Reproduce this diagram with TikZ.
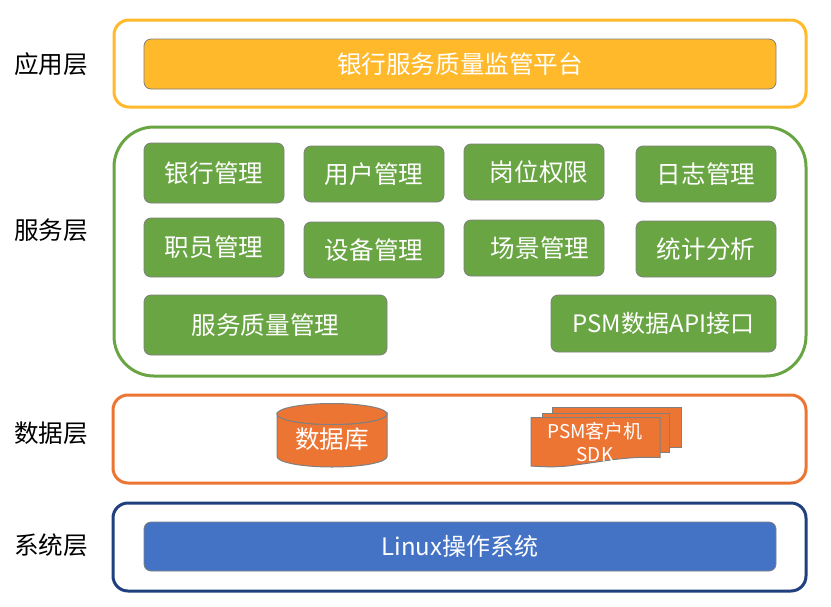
\documentclass[tikz,border=0pt]{standalone}
\usepackage{fontspec}
\setmainfont{Noto Sans CJK SC}
\definecolor{cyellow}{HTML}{FFB92A}
\definecolor{cgreen}{HTML}{6AA544}
\definecolor{corange}{HTML}{ED7534}
\definecolor{cblue}{HTML}{4472C4}
\definecolor{cnavy}{HTML}{1F3F7F}
\definecolor{cgray}{HTML}{808080}
\tikzset{
  layer/.style={draw,line width=3pt,fill=white,rounded corners=15pt,inner sep=0pt},
  card/.style={draw=cgray,line width=0.8pt,text=white,font=\fontsize{24.6}{28}\selectfont,rounded corners=7pt,inner sep=0pt},
  greencard/.style={card,fill=cgreen},
  sidelabel/.style={font=\fontsize{24.6}{28}\selectfont,text=black,inner sep=0pt},
  sheet/.style={draw=cgray,line width=1pt,fill=corange},
}
\begin{document}
\begin{tikzpicture}[x=1pt,y=-1pt]
\useasboundingbox (0,0) rectangle (831,606);
\fill[white] (0,0) rectangle (831,606);
% outer layers
\node[layer,draw=cyellow,minimum width=692pt,minimum height=87pt] (appL) at (460,63.5) {};
\node[layer,draw=cgreen,rounded corners=40pt,minimum width=692pt,minimum height=249pt] (svcL) at (460,251.5) {};
\node[layer,draw=corange,minimum width=693pt,minimum height=88pt] (dataL) at (459.5,439) {};
\node[layer,draw=cnavy,minimum width=693pt,minimum height=88pt] (sysL) at (459.5,547) {};
% side labels
\node[sidelabel] (l1) at (51,64) {应用层};
\node[sidelabel] (l2) at (51,230.5) {服务层};
\node[sidelabel] (l3) at (51,433) {数据层};
\node[sidelabel] (l4) at (51,545.5) {系统层};
% application
\node[card,fill=cyellow,minimum width=632pt,minimum height=50pt] (bank) at (460,64) {银行服务质量监管平台};
% services
\node[greencard,minimum width=140pt,minimum height=60pt] (s1) at (214,173) {银行管理};
\node[greencard,minimum width=140pt,minimum height=56pt] (s2) at (374,174) {用户管理};
\node[greencard,minimum width=140pt,minimum height=56pt] (s3) at (534,172) {\hspace*{10pt}岗位权限};
\node[greencard,minimum width=140pt,minimum height=56pt] (s4) at (706,174) {日志管理};
\node[greencard,minimum width=140pt,minimum height=59pt] (s5) at (214,247.5) {职员管理};
\node[greencard,minimum width=140pt,minimum height=56pt] (s6) at (374,250) {设备管理};
\node[greencard,minimum width=140pt,minimum height=56pt] (s7) at (534,248) {\hspace*{12pt}场景管理};
\node[greencard,minimum width=140pt,minimum height=56pt] (s8) at (706,249) {统计分析};
\node[greencard,minimum width=243pt,minimum height=60pt] (s9) at (265.5,325) {服务质量管理};
\node[greencard,minimum width=225pt,minimum height=57pt,font=\fontsize{24}{28}\selectfont] (s10) at (663.5,323.5) {PSM数据API接口};
% database cylinder
\path[sheet] (277,414) -- (277,456.5) arc[start angle=180,end angle=0,x radius=55,y radius=10.5]
  -- (387,414) arc[start angle=0,end angle=180,x radius=55,y radius=10.5] -- cycle;
\path[sheet] (332,414) ellipse[x radius=55,y radius=10.5];
\node[text=white,font=\fontsize{24.6}{28}\selectfont,inner sep=0pt] (db) at (332,439.5) {数据库};
% multi-document
\path[sheet] (552,407) -- (681,407) -- (681,447.5) -- (552,447.5) -- cycle;
\path[sheet] (542,413) -- (669,413) -- (669,452) -- (542,452) -- cycle;
\path[sheet] (531,417.5) -- (660,417.5) -- (660,457.5)
  .. controls (625,456) and (600,462) .. (575,465)
  .. controls (560,467.5) and (545,467) .. (531,466) -- cycle;
\node[text=white,font=\fontsize{19}{23}\selectfont,inner sep=0pt,align=center] (sdk) at (595,442) {PSM客户机\\SDK};
% system
\node[card,fill=cblue,minimum width=632pt,minimum height=49pt,font=\fontsize{24}{28}\selectfont] (os) at (460,546.5) {Linux操作系统};
\end{tikzpicture}
\end{document}
